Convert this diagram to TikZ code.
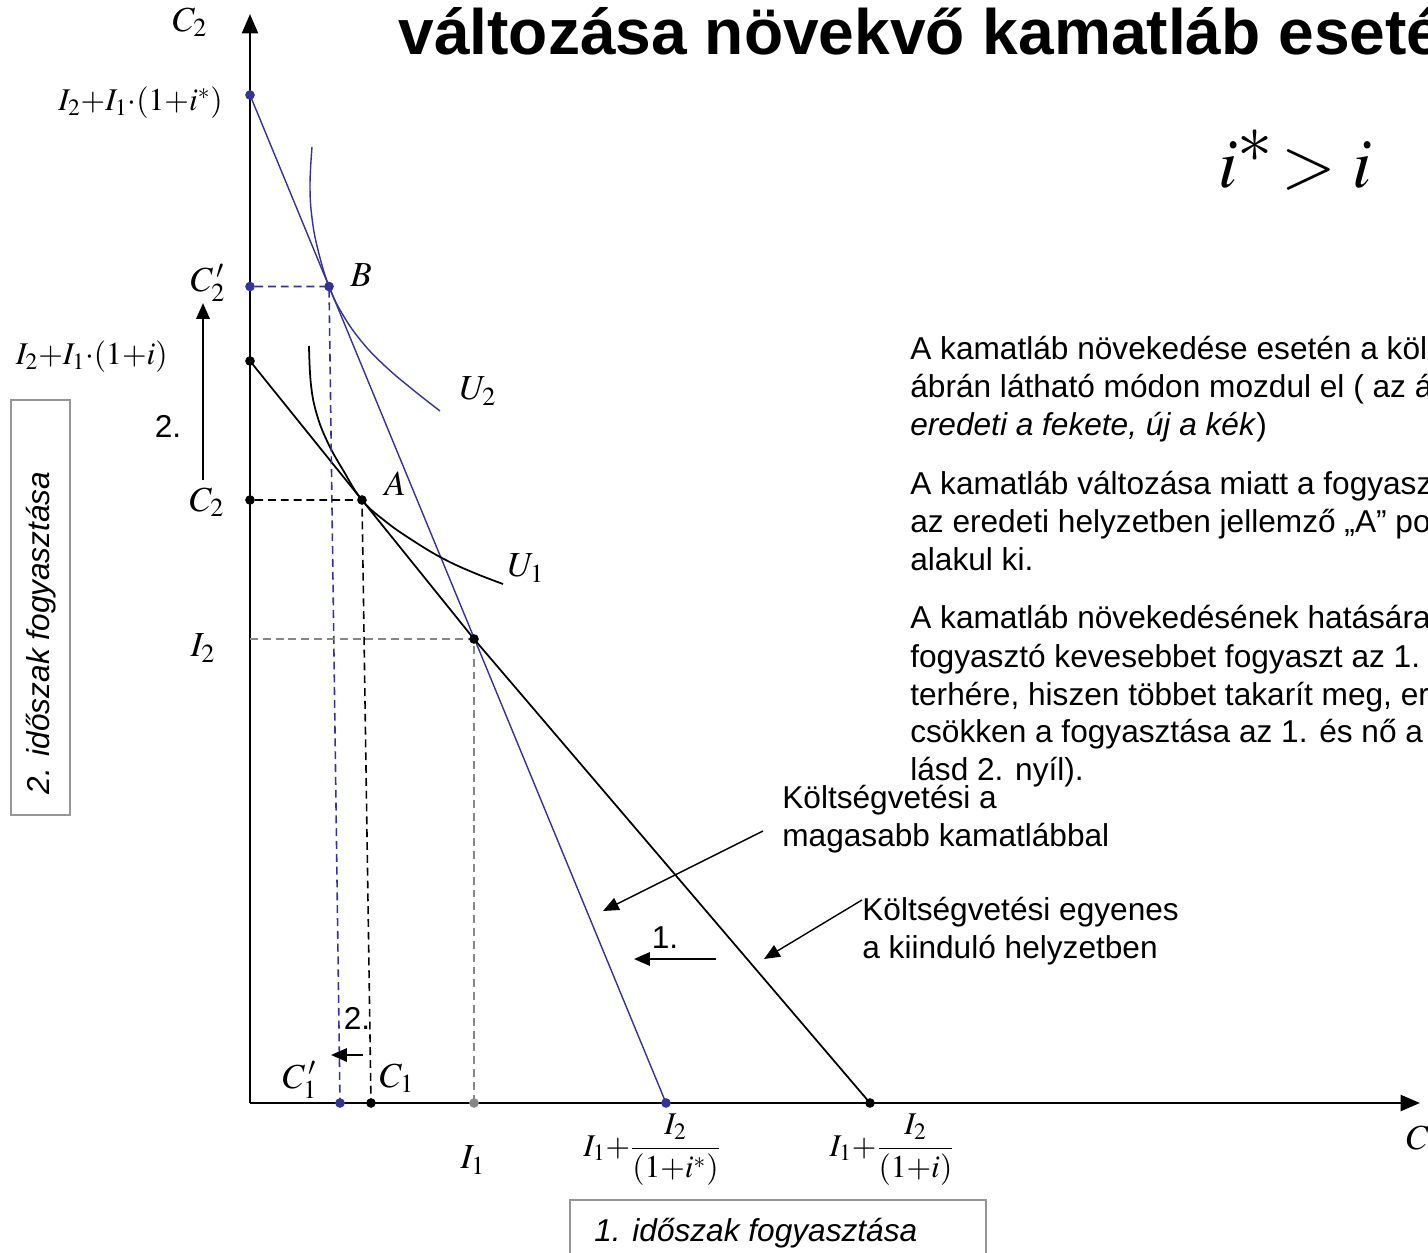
\documentclass[tikz,border=0pt]{standalone}
\usepackage{mathptmx}
\usepackage[no-math]{fontspec}
\setmainfont{Liberation Sans}
\usetikzlibrary{arrows.meta,calc}
\definecolor{bl}{RGB}{51,51,153}
\definecolor{gr}{RGB}{135,135,135}
\definecolor{boxgr}{RGB}{150,150,150}
\begin{document}
\begin{tikzpicture}[x=0.02cm,y=-0.02cm,
  txt/.style={font=\fontsize{18}{21.5}\selectfont, inner sep=0, anchor=base west},
  mlab/.style={font=\fontsize{20}{24}\selectfont, inner sep=0},
  slab/.style={font=\fontsize{18}{22}\selectfont, inner sep=0},
  kdot/.style={circle,fill=black,inner sep=0,minimum size=5.5pt},
  bdot/.style={circle,fill=bl,inner sep=0,minimum size=5.5pt},
  gdot/.style={circle,fill=gr,inner sep=0,minimum size=5.5pt},
  axis/.style={line width=1.6pt,-{Triangle[length=11pt,width=9pt]}},
  kline/.style={line width=1pt},
  bline/.style={line width=0.8pt,bl},
  kdash/.style={line width=0.9pt,dash pattern=on 4.5pt off 2.8pt},
  bdash/.style={line width=0.9pt,bl,dash pattern=on 4.5pt off 2.8pt},
  gdash/.style={line width=0.9pt,gr,dash pattern=on 4.5pt off 2.8pt},
  marrow/.style={line width=1.4pt,-{Triangle[length=9pt,width=7.5pt]}},
  annarrow/.style={line width=0.8pt,-{Triangle[length=9pt,width=7.5pt]}},
  greybox/.style={draw=boxgr,line width=1pt}]
\clip (0,0) rectangle (1428,1253);
\fill[white] (0,0) rectangle (1428,1253);

% title
\node[font=\fontsize{36.5}{40}\selectfont\bfseries, inner sep=0, anchor=base west] (title) at (398,55) {változása növekvő kamatláb eseté};
\node[font=\fontsize{40}{48}\selectfont, inner sep=0] (cond) at (1295,160) {$i^{\textstyle\ast}\!>i$};

% axes
\coordinate (O) at (250,1103);
\coordinate (Ytop) at (250,14);
\coordinate (Xend) at (1420,1103);
\draw[axis] (O) -- (Ytop);
\draw[axis] (O) -- (Xend);

% key points
\node[bdot] (Ys) at (250,95) {};
\node[bdot] (Xs) at (666,1103) {};
\node[kdot] (Y0) at (250,361) {};
\node[kdot] (X0) at (870,1103) {};
\coordinate (E) at (474,639);
\coordinate (B) at ($(Ys)!0.19!(Xs)$);
\coordinate (A) at ($(Y0)!0.5!(E)$);

% budget lines
\draw[bline] (Ys.center) -- (Xs.center);
\draw[kline] (Y0.center) -- (E) -- (X0.center);

% indifference curves
\draw[bline] plot[smooth,tension=0.7] coordinates {(312,147) (310,185) (312,218) (318,250) (B) (343,315) (362,342) (385,366) (412,389) (440,411)};
\draw[kline] plot[smooth,tension=0.7] coordinates {(309,346) (311,385) (317,415) (328,443) (343,470) (A) (385,521) (412,540) (442,558) (472,572) (503,584)};

% dashed guides
\node[bdot] (C2p) at (Ys |- B) {};
\node[bdot] (C1p) at (340,1103) {};
\draw[bdash] (C2p) -- (B) -- (C1p.center);
\node[kdot] (C2) at (O |- A) {};
\node[kdot] (C1) at (371,1103) {};
\draw[kdash] (C2) -- (A) -- (C1.center);
\coordinate (I2) at (O |- E);
\node[gdot] (I1) at (O -| E) {};
\draw[gdash] (I2) -- (E) -- (I1.center);
\node[kdot] (Ed) at (E) {};
\node[bdot] (Bd) at (B) {};
\node[kdot] (Ad) at (A) {};

% math labels
\node[mlab] (lC2top) at (190,22) {$C_2$};
\node[slab,anchor=east] (lYs) at (223,103) {$I_2{+}I_1{\cdot}(1{+}i^{*})$};
\node[mlab] (lC2p) at (208,283) {$C_2^{\,\prime}$};
\node[slab,anchor=east] (lY0) at (168,357) {$I_2{+}I_1{\cdot}(1{+}i)$};
\node[mlab] (lC2) at (207,502) {$C_2$};
\node[mlab] (lI2) at (203,648) {$I_2$};
\node[mlab] (lB) at (361,275) {$B$};
\node[mlab] (lA) at (395,484) {$A$};
\node[mlab] (lU2) at (478,391) {$U_2$};
\node[mlab] (lU1) at (526,568) {$U_1$};
\node[mlab] (lC1p) at (300,1080) {$C_1^{\,\prime}$};
\node[mlab] (lC1) at (397,1078) {$C_1$};
\node[mlab] (lI1) at (473,1160) {$I_1$};
\node[slab] (lXs) at (652,1150) {$I_1{+}\displaystyle\frac{I_2}{(1{+}i^{*})}$};
\node[slab] (lX0) at (892,1150) {$I_1{+}\displaystyle\frac{I_2}{(1{+}i)}$};
\node[mlab,anchor=west] (lC1ax) at (1406,1140) {$C_1$};

% movement arrows
\coordinate (a2s) at (203,480);
\coordinate (a2e) at (203,303);
\draw[marrow] (a2s) -- (a2e);
\node[txt,anchor=center] (n2a) at (168,426) {2.};
\coordinate (b2s) at (363,1055);
\coordinate (b2e) at (331,1055);
\draw[marrow] (b2s) -- (b2e);
\node[txt,anchor=center] (n2b) at (357,1018) {2.};
\coordinate (a1s) at (716,959);
\coordinate (a1e) at (634,959);
\draw[marrow] (a1s) -- (a1e);
\node[txt,anchor=center] (n1) at (665,938) {1.};

% annotations
\node[txt] (k1a) at (782,808) {Költségvetési a};
\node[txt] (k1b) at (782,846) {magasabb kamatlábbal};
\coordinate (k1s) at (763,831);
\coordinate (k1e) at (603,911);
\draw[annarrow] (k1s) -- (k1e);
\node[txt] (k2a) at (862,920) {Költségvetési egyenes};
\node[txt] (k2b) at (862,958) {a kiinduló helyzetben};
\coordinate (k2s) at (862,900);
\coordinate (k2e) at (764,959);
\draw[annarrow] (k2s) -- (k2e);

% right text
\node[txt] (p1a) at (910,360) {A kamatláb növekedése esetén a köl};
\node[txt] (p1b) at (910,398) {ábrán látható módon mozdul el ( az á};
\node[txt] (p1c) at (910,436) {\textit{eredeti a fekete, új a kék})};
\node[txt] (p2a) at (910,495) {A kamatláb változása miatt a fogyasz};
\node[txt] (p2b) at (910,533) {az eredeti helyzetben jellemző „A” po};
\node[txt] (p2c) at (910,571) {alakul ki.};
\node[txt] (p3a) at (910,629) {A kamatláb növekedésének hatására};
\node[txt] (p3b) at (910,667) {fogyasztó kevesebbet fogyaszt az 1.};
\node[txt] (p3c) at (910,705) {terhére, hiszen többet takarít meg, er};
\node[txt] (p3d) at (910,743) {csökken a fogyasztása az 1. és nő a};
\node[txt] (p3e) at (910,781) {lásd 2. nyíl).};

% axis title boxes
\draw[greybox] (11,400) rectangle (70,815);
\node[txt,anchor=center,rotate=90,font=\fontsize{18}{21.5}\selectfont\itshape] (ybox) at (41,633) {2. időszak fogyasztása};
\draw[greybox] (570,1200) rectangle (986,1270);
\node[txt,font=\fontsize{18}{21.5}\selectfont\itshape] (xbox) at (594,1241) {1. időszak fogyasztása};
\end{tikzpicture}
\end{document}
